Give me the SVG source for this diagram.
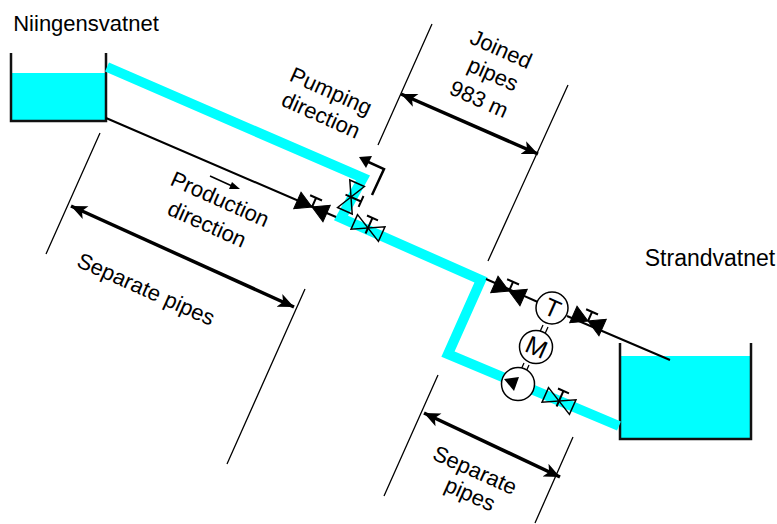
<svg xmlns="http://www.w3.org/2000/svg" width="777" height="524" viewBox="0 0 777 524">
<style>
text{font-family:"Liberation Sans",Arial,sans-serif;font-size:22px;fill:#000;text-anchor:middle}
.l{fill:none;stroke:#000;stroke-width:1.3}
.ln{fill:none;stroke:#000;stroke-width:2}
.dim{fill:none;stroke:#000;stroke-width:3.5;marker-start:url(#as);marker-end:url(#a)}
.pipe{fill:none;stroke:#0ff;stroke-width:10;stroke-linejoin:miter}
.tank{fill:none;stroke:#111;stroke-width:2.5}
.c{fill:#fff;stroke:#000;stroke-width:1.5}
.w{fill:#0ff}
.vo{fill:none;stroke:#000;stroke-width:1.5}
.vs{fill:none;stroke:#000;stroke-width:2}
</style>
<defs>
<marker id="a" markerUnits="userSpaceOnUse" markerWidth="18" markerHeight="16" refX="16" refY="8" orient="auto"><path d="M0 1L16 8L0 15L4 8Z"/></marker>
<marker id="as" markerUnits="userSpaceOnUse" markerWidth="18" markerHeight="16" refX="0" refY="8" orient="auto"><path d="M16 1L0 8L16 15L12 8Z"/></marker>
<g id="vb"><path d="M-16 -9V9L0 0ZM16 -9V9L0 0Z" fill="#000" stroke="#000"/><path class="vs" d="M0 0V-10M-6.500 -10H6.500"/></g>
<g id="vw"><path class="vo" d="M-15 -8V8L15 -8V8Z"/><path class="vs" d="M0 6V-11M-6 -11H6"/></g>
</defs>
<g id="tank-niingensvatnet"><rect class="w" x="11" y="73" width="95" height="48"/><path class="tank" d="M11 53V121H106V53"/><text x="86" y="31">Niingensvatnet</text></g>
<g id="tank-strandvatnet"><rect class="w" x="620" y="356" width="131" height="83"/><path class="tank" d="M620 343V439H751V343"/><text x="710" y="266" style="font-size:23px">Strandvatnet</text></g>
<g id="connectors">
<path class="pipe" d="M107 67L363 178L341 218L481 280L448 354L619 426"/>
<path class="ln" d="M106 118L336 217M486 279L540 303M567 316L670 360"/>
<path class="l" d="M100 133L46 254M305 289L227 464M432 24L378 145M568 85L488 261M438 375L384 496M573 437L535 523"/>
<path class="dim" d="M71 206L294 307"/>
<path class="dim" d="M401 94L538 154"/>
<path class="dim" d="M424 413L560 477"/>
<path d="M372 195L384 169L364 160" fill="none" stroke="#000" stroke-width="2.500"/>
<path d="M359 157L372 156L366 168Z"/>
<path d="M210 176L232 186" fill="none" stroke="#000" stroke-width="1.500"/>
<path d="M240 189L229 189L232 182Z"/>
</g>
<g id="valve-1"><use href="#vb" transform="translate(312 207) rotate(24)"/></g>
<g id="valve-2"><use href="#vw" transform="translate(351 197) rotate(114)"/></g>
<g id="valve-3"><use href="#vw" transform="translate(368 228) rotate(24)"/></g>
<g id="valve-4"><use href="#vb" transform="translate(509 291) rotate(24)"/></g>
<g id="valve-5"><use href="#vb" transform="translate(588 321) rotate(24)"/></g>
<g id="valve-6"><use href="#vw" transform="translate(559 401) rotate(24)"/></g>
<g id="shaft"><path class="l" d="M543 325L534 345M548 327L539 347M524 363L515 383M529 365L520 385"/></g>
<g id="turbine"><circle class="c" cx="552" cy="308" r="16"/><text transform="translate(549 316) rotate(24)" style="font-size:25px">T</text></g>
<g id="motor"><circle class="c" cx="536" cy="347" r="16.500"/><text transform="translate(533 355) rotate(24)" style="font-size:25px">M</text></g>
<g id="pump"><circle class="c" cx="518" cy="384" r="16.500"/><path d="M504 379L519 377L514 391Z"/></g>
<g id="labels">
<text transform="translate(328 98) rotate(24)">Pumping</text>
<text transform="translate(318 122) rotate(24)">direction</text>
<text transform="translate(217 206) rotate(24)">Production</text>
<text transform="translate(204 231) rotate(24)">direction</text>
<text transform="translate(143 296) rotate(24)">Separate pipes</text>
<text transform="translate(498 56) rotate(24)">Joined</text>
<text transform="translate(490 81) rotate(24)">pipes</text>
<text transform="translate(476 106) rotate(24)">983 m</text>
<text transform="translate(472 477) rotate(24)">Separate</text>
<text transform="translate(467 501) rotate(24)">pipes</text>
</g>
</svg>
